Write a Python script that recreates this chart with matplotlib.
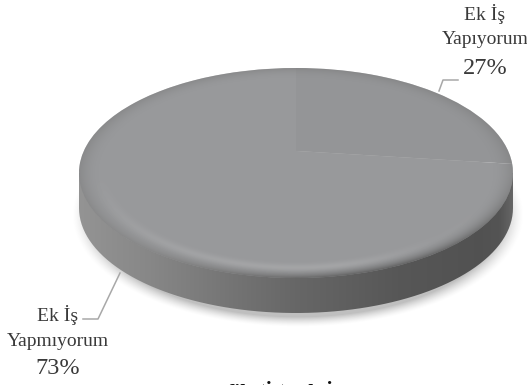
import numpy as np
import matplotlib
matplotlib.use('Agg')
from matplotlib import pyplot as plt
from matplotlib.patches import Ellipse, PathPatch
from matplotlib.path import Path
from matplotlib.transforms import Transform

# Chart data
shares = [27, 73]
labels = ['Ek İş\nYapıyorum', 'Ek İş\nYapmıyorum']
slice_colors = ['#949597', '#98999b']
caption = 'Grafik (İş) Ek İş Durumu'

# Disc geometry in pixels
cx, cy = 296, 173
rx, ry = 217, 105
depth = 35
tilt = 0.21   # moves the pie centre up, like the perspective in the original

plt.rcParams['font.family'] = ['Liberation Serif', 'DejaVu Serif']


class Perspective(Transform):
    # unit disc -> tilted ellipse in pixels
    input_dims = output_dims = 2

    def transform_non_affine(self, values):
        u, v = values[:, 0], values[:, 1]
        d = 1 + tilt * v
        x = u * np.sqrt(1 - tilt ** 2) / d
        y = (v + tilt) / d
        return np.column_stack([cx + rx * x, cy - ry * y])


fig = plt.figure(figsize=(5.27, 3.85), dpi=100)
ax = fig.add_axes([0, 0, 1, 1])
xx, yy = np.meshgrid(np.arange(527) + 0.5, np.arange(385) + 0.5)
box = (0, 527, 385, 0)


def overlay(rgba, clip=None, z=1):
    im = ax.imshow(rgba, extent=box, aspect='auto', zorder=z, interpolation='bilinear')
    if clip is not None:
        im.set_clip_path(clip)


# soft shadow under the disc
r = np.sqrt(((xx - 298) / 226) ** 2 + ((yy - 215) / 112) ** 2)
shadow = np.zeros((385, 527, 4))
shadow[..., :3] = 0.55
shadow[..., 3] = np.clip((1.0 - r) / 0.09, 0, 1) ** 1.5 * 0.55
overlay(shadow, z=1)

# side wall, gradient from left to right
stops_x = [79, 150, 250, 300, 400, 480, 500, 513]
stops_v = [0.58, 0.53, 0.44, 0.40, 0.34, 0.32, 0.33, 0.40]
side = np.ones((385, 527, 4))
side[..., :3] = np.interp(xx, stops_x, stops_v)[..., None]
t = np.linspace(np.pi, 2 * np.pi, 80)
low_x = cx + rx * np.cos(t)
low_y = cy + depth - ry * np.sin(t)
wall = np.vstack([[cx - rx, cy], np.column_stack([low_x, low_y]), [cx + rx, cy]])
wall_patch = PathPatch(Path(wall), transform=ax.transData, fc='none', ec='none')
ax.add_patch(wall_patch)
overlay(side, wall_patch, z=2)

# top of the disc
wedges, _ = ax.pie(shares, colors=slice_colors, startangle=90, counterclock=False,
                   radius=1, frame=False)
for w in wedges:
    w.set_transform(Perspective() + ax.transData)
    w.set_zorder(3)
    w.set_linewidth(0)

# bevel round the rim: dark at the edge, a lighter band just inside
r = np.sqrt(((xx - cx) / rx) ** 2 + ((yy - cy) / ry) ** 2)
front = np.clip((yy - cy) / ry, 0, 1)
edge = np.clip((r - 0.90) / 0.10, 0, 1) ** 2
bevel = np.zeros((385, 527, 4))
shade = np.interp(xx, stops_x, stops_v)
bevel[..., :3] = (0.47 * (1 - front) + shade * front)[..., None]
bevel[..., 3] = edge * (0.45 + 0.5 * front)
top_patch = Ellipse((cx, cy), 2 * rx, 2 * ry, fc='none', ec='none')
ax.add_patch(top_patch)
overlay(bevel, top_patch, z=4)

band = np.zeros((385, 527, 4))
band[..., :3] = 0.80
band[..., 3] = np.exp(-((r - 0.90) / 0.035) ** 2) * 0.25 * front * np.clip((460 - xx) / 120, 0.2, 1)
overlay(band, top_patch, z=5)

ax.set_xlim(0, 527)
ax.set_ylim(385, 0)
ax.set_aspect('auto')
ax.axis('off')

# labels and leader lines
line_col = '#a8a8a8'
ax.plot([439, 443, 458], [91, 80, 80], color=line_col, lw=1.1, zorder=6)
ax.plot([120, 98, 83], [273, 319, 319], color=line_col, lw=1.1, zorder=6)

txt = '#3a3a3a'
for (x, y0), lab, val in zip([(485, 14), (58, 315)], labels, shares):
    first, second = lab.split('\n')
    ax.text(x, y0, first, ha='center', va='center', fontsize=14, color=txt)
    ax.text(x, y0 + 26, second, ha='center', va='center', fontsize=14, color=txt)
    ax.text(x, y0 + 54, f'{val}%', ha='center', va='center', fontsize=17.5, color=txt)

# caption is cut off by the bottom of the image in the original
ax.text(308, 381.5, caption, ha='center', va='top', fontsize=15.5, fontweight='bold',
        color='#111111', clip_on=False)

fig.savefig('out.png', dpi=100)
